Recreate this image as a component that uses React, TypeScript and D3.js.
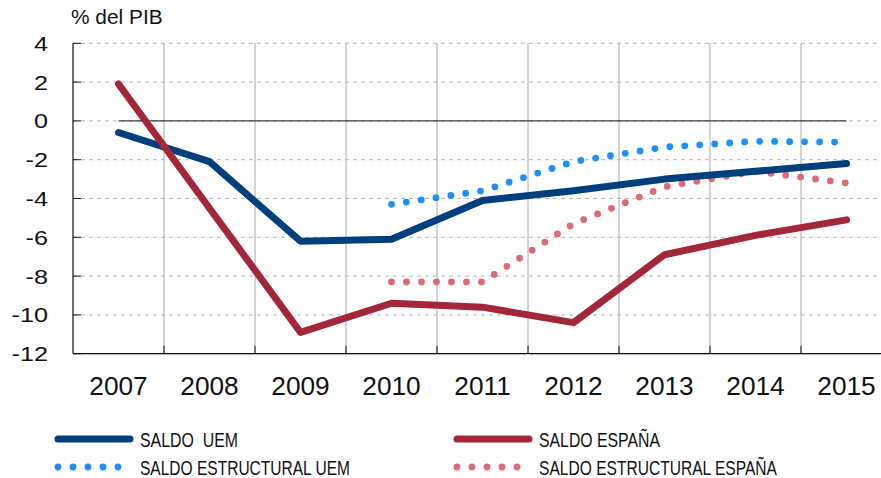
import React, { useEffect, useRef } from "react";
import * as d3 from "d3";

// datos (% del PIB)
const years = ["2007", "2008", "2009", "2010", "2011", "2012", "2013", "2014", "2015"];
const saldoUEM = [-0.6, -2.1, -6.2, -6.1, -4.1, -3.6, -3.0, -2.6, -2.2];
const saldoEspana = [1.9, -4.5, -10.9, -9.4, -9.6, -10.4, -6.9, -5.9, -5.1];
const estructuralUEM = [null, null, null, -4.3, -3.6, -2.1, -1.35, -1.05, -1.1];
const estructuralEspana = [null, null, null, -8.3, -8.3, -5.3, -3.4, -2.6, -3.2];
const yTicks = [4, 2, 0, -2, -4, -6, -8, -10, -12];

const series = [
  { name: "SALDO  UEM", values: saldoUEM, color: "#003f7d", dotted: false },
  { name: "SALDO ESPAÑA", values: saldoEspana, color: "#a3263a", dotted: false },
  { name: "SALDO ESTRUCTURAL UEM", values: estructuralUEM, color: "#1f8fff", dotted: true },
  { name: "SALDO ESTRUCTURAL ESPAÑA", values: estructuralEspana, color: "#da6b77", dotted: true },
];

const W = 881;
const H = 478;
const numFont = "'Liberation Sans', Arial, sans-serif";

export default function App() {
  const ref = useRef<SVGSVGElement>(null);

  useEffect(() => {
    const svg = d3.select(ref.current);
    svg.selectAll("*").remove();

    const left = 73;
    const top = 43.3;
    const bottom = 353.7;

    const x = d3.scaleBand().domain(years).range([left, left + 91 * years.length]).padding(0);
    const cx = (d) => x(d) + x.bandwidth() / 2;
    const y = d3.scaleLinear().domain([-12, 4]).range([bottom, top]);

    // rejilla horizontal discontinua
    svg.append("g")
      .selectAll("line")
      .data(yTicks)
      .enter()
      .append("line")
      .attr("x1", left)
      .attr("x2", W)
      .attr("y1", (d) => y(d))
      .attr("y2", (d) => y(d))
      .attr("stroke", "#b5b5b5")
      .attr("stroke-width", 1)
      .attr("stroke-dasharray", "4 4");

    // rejilla vertical
    svg.append("g")
      .selectAll("line")
      .data(years.slice(1))
      .enter()
      .append("line")
      .attr("x1", (d) => x(d))
      .attr("x2", (d) => x(d))
      .attr("y1", top)
      .attr("y2", bottom)
      .attr("stroke", "#a8a8a8")
      .attr("stroke-width", 1);

    // linea del cero
    svg.append("line")
      .attr("x1", cx(years[0]))
      .attr("x2", cx(years[years.length - 1]))
      .attr("y1", y(0))
      .attr("y2", y(0))
      .attr("stroke", "#111")
      .attr("stroke-width", 1);

    // ejes
    svg.append("line")
      .attr("x1", left).attr("x2", left)
      .attr("y1", top).attr("y2", bottom)
      .attr("stroke", "#111").attr("stroke-width", 1.2);
    svg.append("line")
      .attr("x1", left).attr("x2", W)
      .attr("y1", bottom).attr("y2", bottom)
      .attr("stroke", "#111").attr("stroke-width", 1.2);

    svg.append("g")
      .selectAll("line")
      .data(yTicks)
      .enter()
      .append("line")
      .attr("x1", left).attr("x2", left + 8)
      .attr("y1", (d) => y(d)).attr("y2", (d) => y(d))
      .attr("stroke", "#111");

    svg.append("g")
      .selectAll("line")
      .data(years.slice(1))
      .enter()
      .append("line")
      .attr("x1", (d) => x(d)).attr("x2", (d) => x(d))
      .attr("y1", bottom - 8).attr("y2", bottom)
      .attr("stroke", "#111");

    // etiquetas eje Y
    svg.append("g")
      .selectAll("text")
      .data(yTicks)
      .enter()
      .append("text")
      .attr("transform", (d) => `translate(48,${y(d) + 7.5}) scale(1.2,1)`)
      .attr("text-anchor", "end")
      .attr("font-family", numFont)
      .attr("font-size", 21)
      .attr("fill", "#111")
      .text((d) => d);

    // etiquetas eje X
    svg.append("g")
      .selectAll("text")
      .data(years)
      .enter()
      .append("text")
      .attr("transform", (d) => `translate(${cx(d)},395) scale(1.05,1)`)
      .attr("text-anchor", "middle")
      .attr("font-family", numFont)
      .attr("font-size", 25)
      .attr("fill", "#111")
      .text((d) => d);

    svg.append("text")
      .attr("transform", "translate(71,24) scale(1.07,1)")
      .attr("font-family", numFont)
      .attr("font-size", 19.5)
      .attr("fill", "#111")
      .text("% del PIB");

    // series
    const line = d3
      .line()
      .defined((d) => d[1] !== null)
      .x((d) => cx(d[0]))
      .y((d) => y(d[1]));

    // primero las punteadas, luego las continuas
    const order = [series[2], series[3], series[0], series[1]];
    order.forEach((s) => {
      const pts = years.map((yr, i) => [yr, s.values[i]]).filter((p) => p[1] !== null);
      svg.append("path")
        .attr("d", line(pts))
        .attr("fill", "none")
        .attr("stroke", s.color)
        .attr("stroke-width", s.dotted ? 6.8 : 7)
        .attr("stroke-linecap", "round")
        .attr("stroke-linejoin", "round")
        .attr("stroke-dasharray", s.dotted ? "0 15" : null);
    });

    // leyenda (letra estrecha: ancho fijado con textLength)
    const legendPos = [
      { x: 58, y: 439, w: 98 },
      { x: 457, y: 439, w: 121 },
      { x: 58, y: 467, w: 210 },
      { x: 457, y: 467, w: 238 },
    ];
    series.forEach((s, i) => {
      const p = legendPos[i];
      const g = svg.append("g");
      g.append("line")
        .attr("x1", p.x)
        .attr("x2", p.x + 72)
        .attr("y1", p.y)
        .attr("y2", p.y)
        .attr("stroke", s.color)
        .attr("stroke-width", s.dotted ? 6.8 : 7)
        .attr("stroke-linecap", "round")
        .attr("stroke-dasharray", s.dotted ? "0 15" : null);
      g.append("text")
        .attr("x", p.x + 82)
        .attr("y", p.y + 8)
        .attr("textLength", p.w)
        .attr("lengthAdjust", "spacingAndGlyphs")
        .attr("font-family", numFont)
        .attr("font-size", 21)
        .attr("fill", "#111")
        .style("white-space", "pre")
        .text(s.name);
    });
  }, []);

  return (
    <svg
      ref={ref}
      width={W}
      height={H}
      style={{ position: "absolute", left: 0, top: 0, background: "#fff" }}
    />
  );
}
